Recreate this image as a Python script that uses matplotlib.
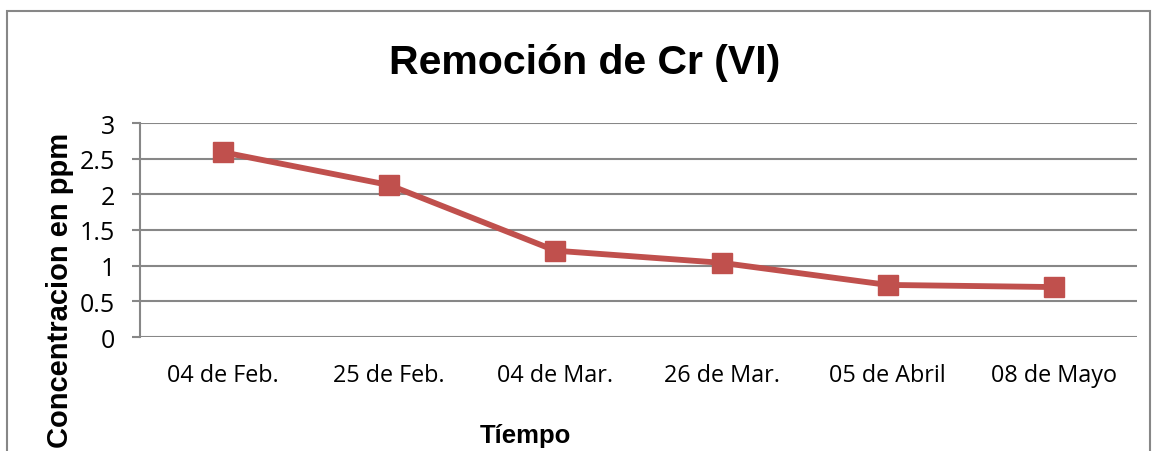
import matplotlib
matplotlib.use("Agg")
import matplotlib.pyplot as plt
from matplotlib.patches import Rectangle

categories = ["04 de Feb.", "25 de Feb.", "04 de Mar.", "26 de Mar.", "05 de Abril", "08 de Mayo"]
values = [2.59, 2.13, 1.21, 1.04, 0.73, 0.70]
yticks = [0, 0.5, 1, 1.5, 2, 2.5, 3]
ytick_labels = ["0", "0.5", "1", "1.5", "2", "2.5", "3"]

W, H = 1154, 452
fig = plt.figure(figsize=(W / 100, H / 100), dpi=100)
fig.patch.set_facecolor("white")

# outer chart border
fig.patches.append(Rectangle((7 / W, -0.05), (1150 - 7) / W, 1.05 - 12 / H,
                             transform=fig.transFigure, fill=False,
                             edgecolor="#878787", linewidth=1.5))

left, right, top, bottom = 140, 1137, 124, 338
ax = fig.add_axes([left / W, 1 - bottom / H, (right - left) / W, (bottom - top) / H])

x = list(range(len(categories)))
ax.plot(x, values, color="#C0504D", linewidth=4.2, marker="s", markersize=14,
        markerfacecolor="#C0504D", markeredgecolor="#C0504D", zorder=3)

ax.set_xlim(-0.5, len(categories) - 0.5)
ax.set_ylim(0, 3)
ax.set_yticks(yticks)
ax.set_yticklabels(ytick_labels, fontfamily="Open Sans", fontsize=18)
ax.set_xticks(x)
ax.set_xticklabels(categories, fontfamily="Open Sans", fontsize=16.8)
ax.tick_params(axis="x", length=0, pad=19)
ax.tick_params(axis="y", length=6, width=1.5, color="#878787", pad=12)

ax.grid(axis="y", color="#878787", linewidth=1.5)
ax.set_axisbelow(True)
for s in ["top", "right", "bottom"]:
    ax.spines[s].set_visible(False)
ax.spines["left"].set_color("#878787")
ax.spines["left"].set_linewidth(1.5)

fig.text(585 / W, 1 - 63 / H, "Remoción de Cr (VI)", ha="center", va="center",
         fontfamily="Liberation Sans", fontweight="bold", fontsize=29.5)
fig.text(60 / W, 1 - 290 / H, "Concentracion en ppm", ha="center", va="center",
         rotation=90, fontfamily="Liberation Sans", fontweight="bold", fontsize=21)
fig.text(525 / W, 1 - 436 / H, "Tíempo", ha="center", va="center",
         fontfamily="Liberation Sans", fontweight="bold", fontsize=18.5)

fig.savefig("out.png", dpi=100)
